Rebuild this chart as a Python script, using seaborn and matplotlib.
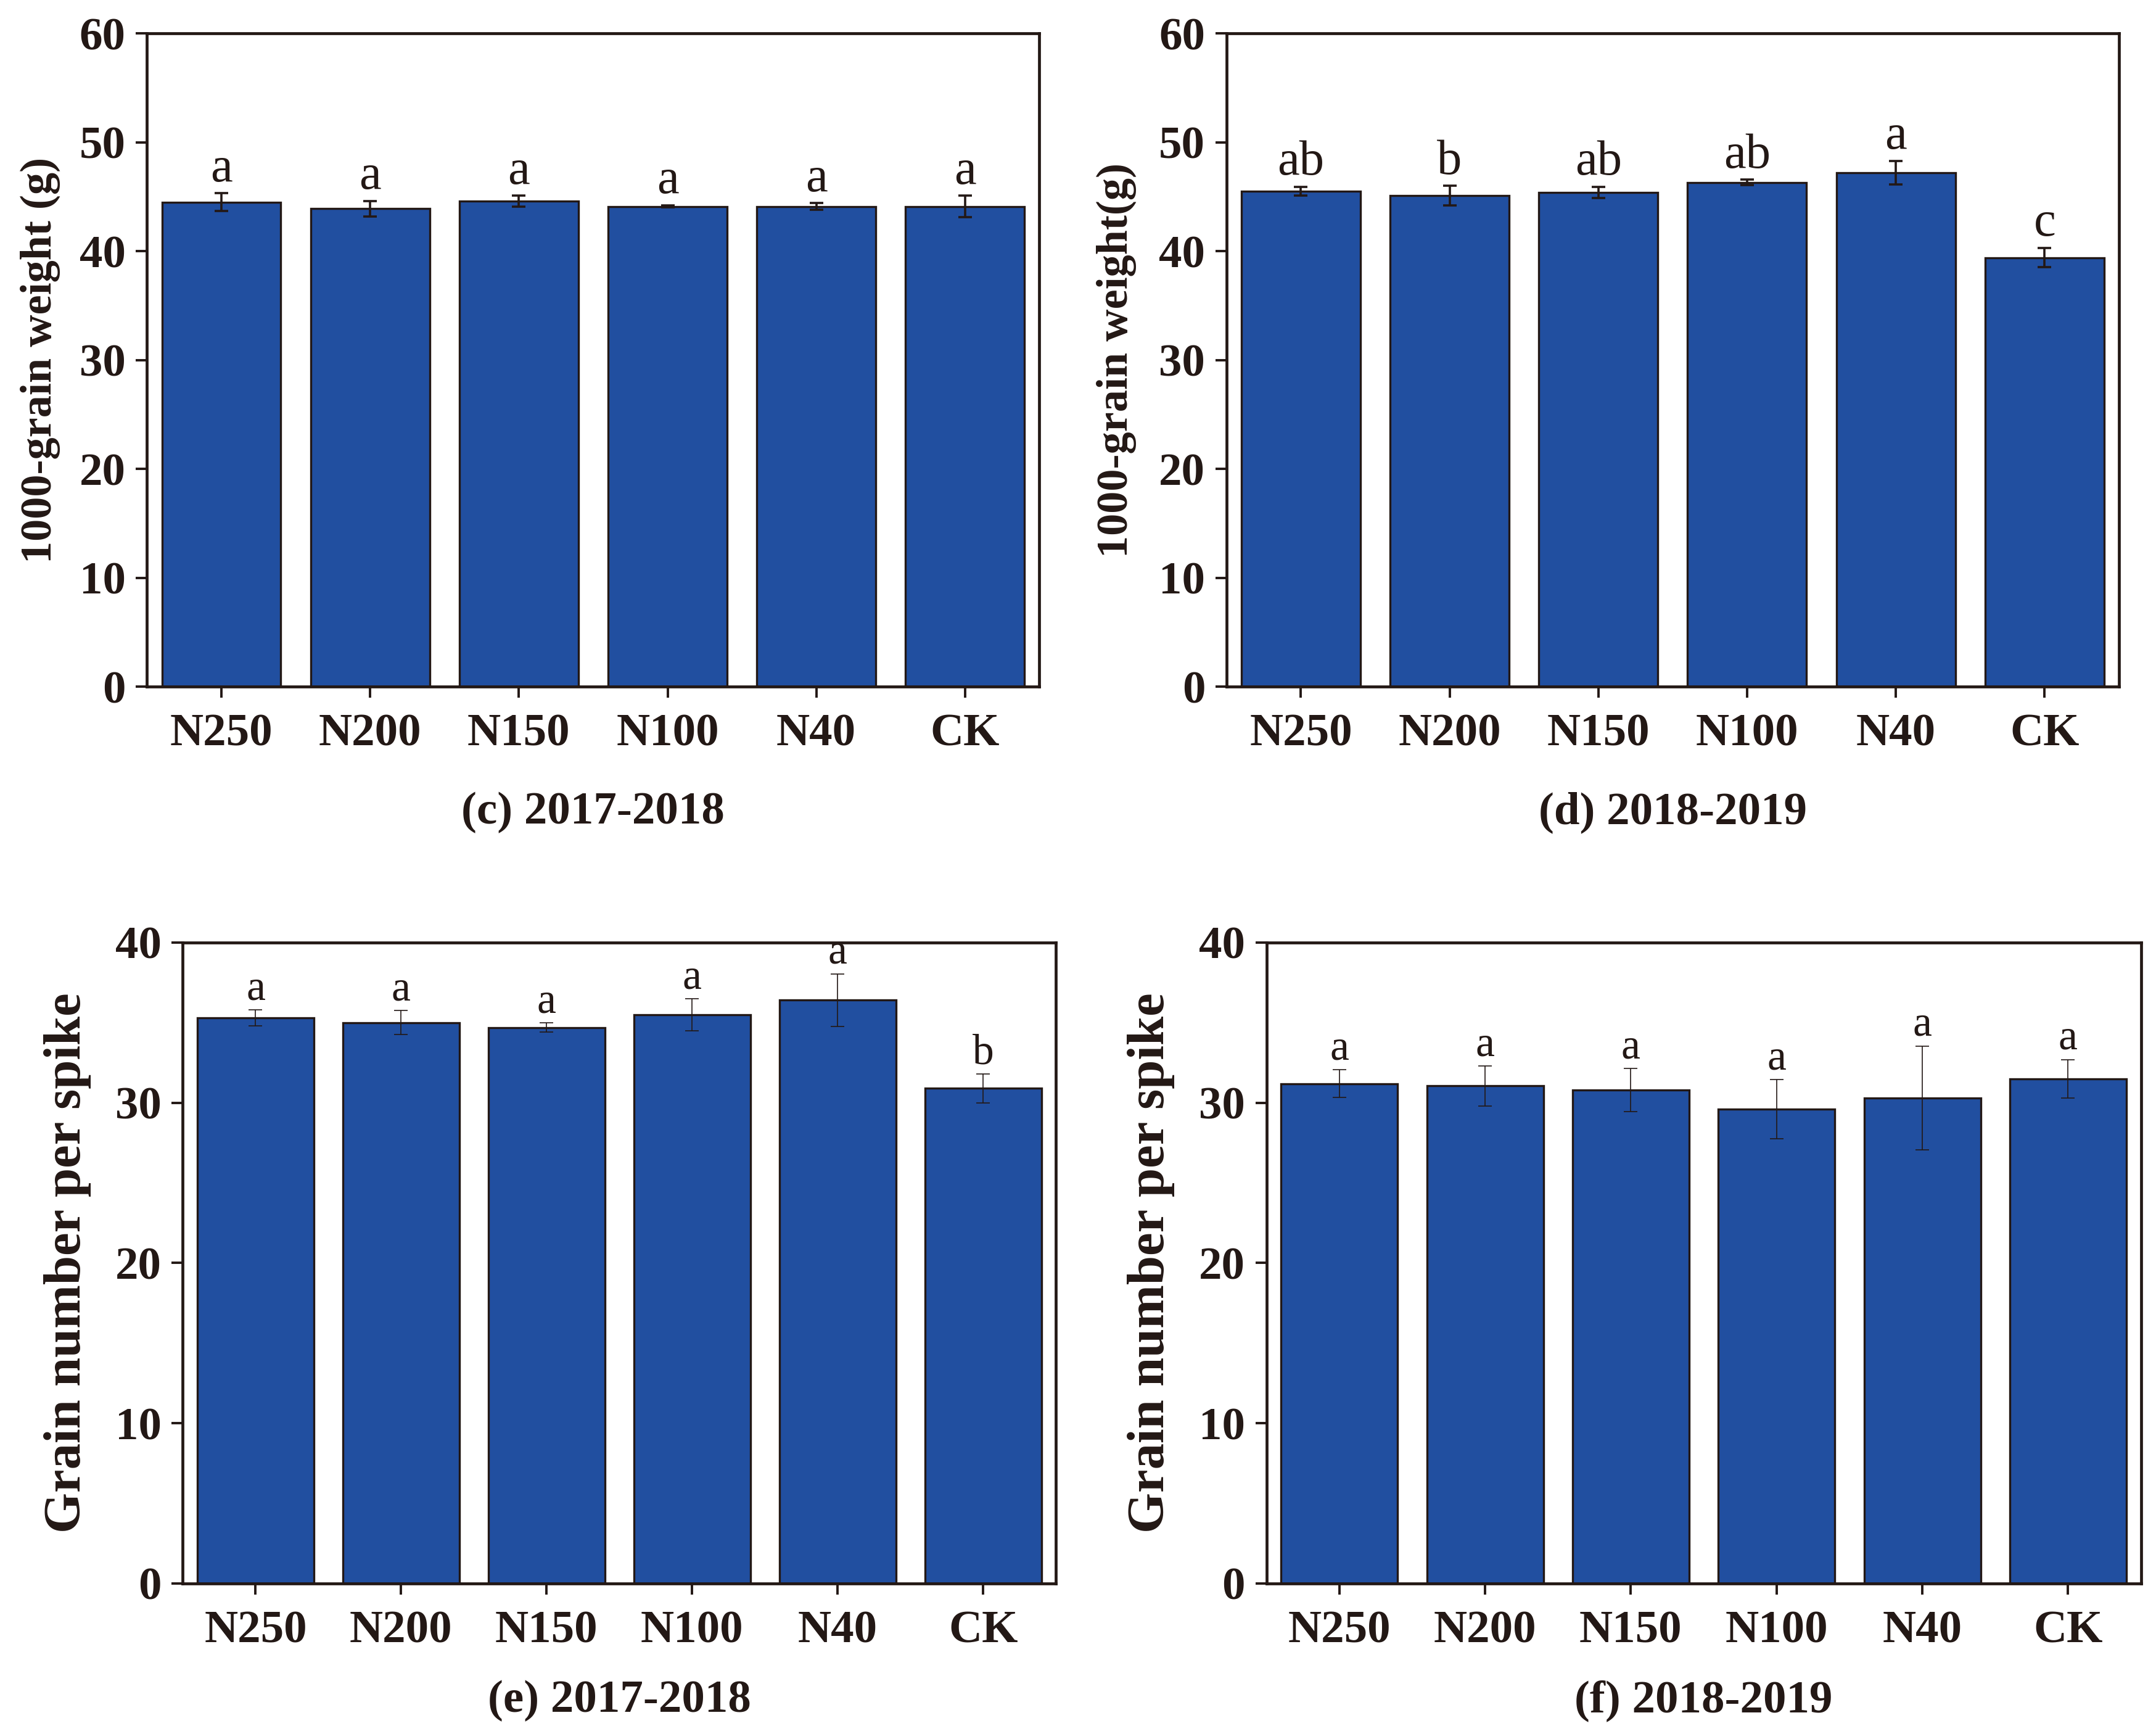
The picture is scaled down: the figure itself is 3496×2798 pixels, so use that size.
"""
Yield components of wheat under N treatments (1000-grain weight and grain number per spike).
"""

import matplotlib.pyplot as plt
import numpy as np
import pandas as pd
import seaborn as sns

# data
treatments = ["N250", "N200", "N150", "N100", "N40", "CK"]

tgw_2017 = [44.5, 43.9, 44.6, 44.1, 44.1, 44.1]
tgw_2017_sd = [0.8, 0.7, 0.5, 0.1, 0.3, 1.0]
tgw_2017_sig = ["a", "a", "a", "a", "a", "a"]

tgw_2018 = [45.5, 45.1, 45.4, 46.3, 47.2, 39.4]
tgw_2018_sd = [0.4, 0.9, 0.5, 0.25, 1.1, 0.9]
tgw_2018_sig = ["ab", "b", "ab", "ab", "a", "c"]

gns_2017 = [35.3, 35.0, 34.7, 35.5, 36.4, 30.9]
gns_2017_sd = [0.5, 0.75, 0.3, 1.0, 1.65, 0.9]
gns_2017_sig = ["a", "a", "a", "a", "a", "b"]

gns_2018 = [31.2, 31.05, 30.8, 29.6, 30.3, 31.5]
gns_2018_sd = [0.85, 1.25, 1.35, 1.85, 3.25, 1.2]
gns_2018_sig = ["a", "a", "a", "a", "a", "a"]

BAR = "#214FA0"
DARK = "#231815"

sns.set_style("ticks")
plt.rcParams["font.family"] = ["Liberation Serif", "DejaVu Serif"]
plt.rcParams["font.weight"] = "bold"
plt.rcParams["axes.labelweight"] = "bold"
plt.rcParams["text.color"] = DARK

fig = plt.figure(figsize=(17.48, 13.99), dpi=200)

panels = [
    # rect, values, sd, letters, ylabel, title, ymax, ylabel size, ylabel pad,
    # title pad, letter size, letter offset, errorbar width
    ([0.0682, 0.6022, 0.4139, 0.3785], tgw_2017, tgw_2017_sd, tgw_2017_sig,
     "1000-grain weight (g)", "(c) 2017-2018", 60, 26, 11, 21, 29, 7, 1.3),
    ([0.5689, 0.6022, 0.4139, 0.3785], tgw_2018, tgw_2018_sd, tgw_2018_sig,
     "1000-grain weight(g)", "(d) 2018-2019", 60, 26, 13, 21, 29, 7, 1.3),
    ([0.0848, 0.0826, 0.4050, 0.3713], gns_2017, gns_2017_sd, gns_2017_sig,
     "Grain number per spike", "(e) 2017-2018", 40, 30.5, 14, 16, 25, 6, 0.6),
    ([0.5874, 0.0826, 0.4056, 0.3713], gns_2018, gns_2018_sd, gns_2018_sig,
     "Grain number per spike", "(f) 2018-2019", 40, 30.5, 14, 16, 25, 6, 0.6),
]

for (rect, vals, sds, sig, ylab, title, ymax, ylab_fs, ylab_pad,
     title_pad, sig_fs, sig_off, elw) in panels:
    ax = fig.add_axes(rect)
    df = pd.DataFrame({"treatment": treatments, "value": vals})
    sns.barplot(data=df, x="treatment", y="value", color=BAR, saturation=1,
                width=0.8, edgecolor=DARK, linewidth=1.2, ax=ax, zorder=2)
    ax.errorbar(np.arange(len(vals)), vals, yerr=sds, fmt="none", ecolor=DARK,
                elinewidth=elw, capsize=3.8, capthick=elw, zorder=3)
    for i, (v, s, l) in enumerate(zip(vals, sds, sig)):
        ax.annotate(l, (i, v + s), xytext=(0, sig_off), textcoords="offset points",
                    ha="center", va="baseline", fontsize=sig_fs,
                    fontweight="normal", color=DARK, zorder=1,
                    annotation_clip=False)

    ax.set_xlim(-0.5, 5.5)
    ax.set_ylim(0, ymax)
    ax.set_yticks(np.arange(0, ymax + 1, 10))
    ax.set_ylabel(ylab, fontsize=ylab_fs, labelpad=ylab_pad, color=DARK)
    ax.set_xlabel(title, fontsize=27, labelpad=title_pad, color=DARK)
    ax.tick_params(axis="both", direction="out", width=1.4,
                   color=DARK, labelcolor=DARK, labelsize=27)
    ax.tick_params(axis="x", length=6.3, pad=9.5)
    ax.tick_params(axis="y", length=6.5, pad=6)
    for sp in ax.spines.values():
        sp.set_visible(True)
        sp.set_linewidth(1.7)
        sp.set_color(DARK)
        sp.set_zorder(4)

plt.savefig("out.png", dpi=200)
